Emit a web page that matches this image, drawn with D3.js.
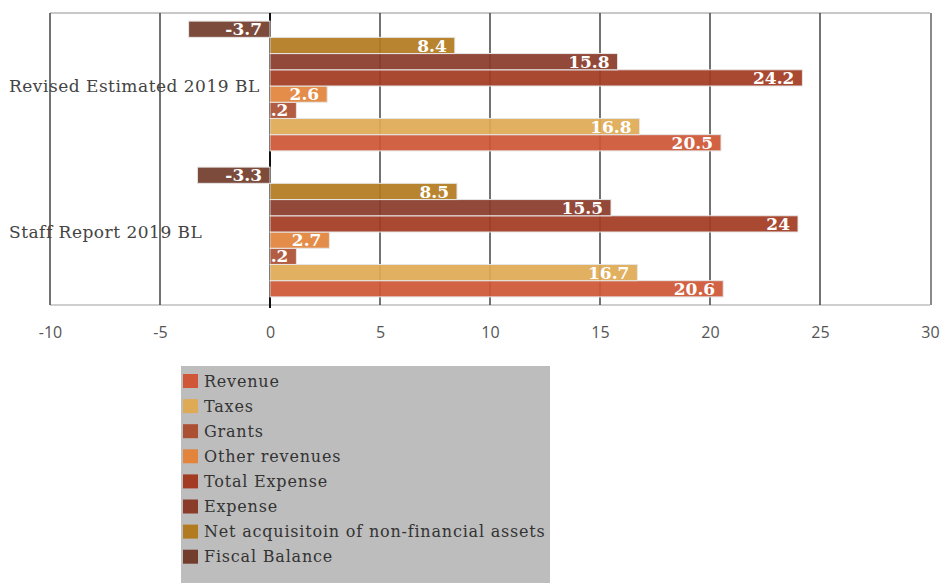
<!DOCTYPE html>
<html>
<head>
<meta charset="utf-8">
<script src="https://cdn.jsdelivr.net/npm/d3@7"></script>
<style>
  html, body { margin: 0; padding: 0; background: #fff; }
  svg { display: block; }
</style>
</head>
<body>
<svg id="chart" width="944" height="583"></svg>
<script>
// Budget law comparison, % of GDP
const categories = ["Revised Estimated 2019 BL", "Staff Report 2019 BL"];
const seriesNames = ["Revenue", "Taxes", "Grants", "Other revenues", "Total Expense",
                     "Expense", "Net acquisitoin of non-financial assets", "Fiscal Balance"];
const revenue       = [20.5, 20.6];
const taxes         = [16.8, 16.7];
const grants        = [1.2, 1.2];
const otherRevenues = [2.6, 2.7];
const totalExpense  = [24.2, 24];
const expense       = [15.8, 15.5];
const netAcquisition = [8.4, 8.5];
const fiscalBalance = [-3.7, -3.3];
const xTicks = [-10, -5, 0, 5, 10, 15, 20, 25, 30];

const seriesValues = [revenue, taxes, grants, otherRevenues, totalExpense,
                      expense, netAcquisition, fiscalBalance];
const colors = ["#cf5636", "#dfaa55", "#ac5034", "#e2843c", "#a33b22",
                "#8a3b2a", "#b37b20", "#723d2c"];

const series = seriesNames.map((name, i) => ({ name, values: seriesValues[i], color: colors[i] }));

const svg = d3.select("#chart");
const plotLeft = 50, plotRight = 930, plotTop = 13, plotBottom = 305;

const x = d3.scaleLinear().domain([-10, 30]).range([plotLeft, plotRight]);
const y0 = d3.scaleBand().domain(categories).range([plotTop, plotBottom]).padding(0);
// Bars stack from the top with Fiscal Balance first and Revenue last
const y1 = d3.scaleBand().domain(seriesNames.slice().reverse())
  .range([0, y0.bandwidth()]).paddingInner(0).paddingOuter(0.5);

const serif = "'DejaVu Serif', serif";

// Category labels sit underneath the grid lines
svg.append("g").selectAll("text").data(categories).join("text")
  .attr("x", 9).attr("y", d => y0(d) + y0.bandwidth() / 2)
  .attr("dy", "0.35em")
  .attr("font-family", serif).attr("font-size", 17).attr("letter-spacing", 0.5)
  .attr("fill", "#444")
  .text(d => d);

// Plot frame
svg.append("line").attr("x1", plotLeft).attr("x2", plotRight).attr("y1", plotTop).attr("y2", plotTop)
  .attr("stroke", "#c8c8c8").attr("stroke-width", 2);
svg.append("line").attr("x1", plotRight + 1).attr("x2", plotRight + 1).attr("y1", plotTop).attr("y2", plotBottom)
  .attr("stroke", "#8a8a8a").attr("stroke-width", 2);
svg.append("line").attr("x1", plotLeft).attr("x2", plotRight).attr("y1", plotBottom).attr("y2", plotBottom)
  .attr("stroke", "#cfcfcf").attr("stroke-width", 2);

// Vertical grid
svg.append("g").selectAll("line").data(xTicks.filter(t => t !== 30)).join("line")
  .attr("x1", d => x(d)).attr("x2", d => x(d))
  .attr("y1", plotTop)
  .attr("y2", d => d === 0 ? plotBottom + 3 : plotBottom)
  .attr("stroke", d => d === 0 ? "#111" : "#444")
  .attr("stroke-width", d => d === 0 ? 2 : 1.5);

// Tick labels (plain hyphen for negatives)
const xAxis = d3.axisBottom(x).tickValues(xTicks).tickFormat(d => String(d)).tickSize(0).tickPadding(0);
const axisG = svg.append("g").attr("transform", `translate(0,${plotBottom})`).call(xAxis);
axisG.select(".domain").remove();
axisG.selectAll("text")
  .attr("y", 27).attr("dy", "0.35em")
  .attr("font-family", "'Open Sans', sans-serif").attr("font-size", 16).attr("fill", "#555");

// Bars
const groups = svg.append("g").selectAll("g").data(categories).join("g")
  .attr("transform", d => `translate(0,${y0(d)})`);

groups.each(function (cat, ci) {
  const g = d3.select(this);
  const rows = series.map(s => ({ name: s.name, color: s.color, v: s.values[ci] }));
  g.selectAll("rect").data(rows).join("rect")
    .attr("x", d => x(Math.min(0, d.v)))
    .attr("width", d => Math.abs(x(d.v) - x(0)))
    .attr("y", d => y1(d.name))
    .attr("height", y1.bandwidth())
    .attr("fill", d => d.color)
    .attr("fill-opacity", 0.93)
    .attr("stroke", "#e6e6e6").attr("stroke-width", 1);
  g.selectAll("text.val").data(rows).join("text").attr("class", "val")
    .attr("x", d => x(Math.max(0, d.v)) - 8)
    .attr("y", d => y1(d.name) + y1.bandwidth() / 2)
    .attr("dy", "0.36em")
    .attr("text-anchor", "end")
    .attr("font-family", serif).attr("font-weight", "bold").attr("font-size", 17)
    .attr("fill", "#fff")
    .text(d => d.v);
});

// Legend
const legend = svg.append("g").attr("transform", "translate(181,366)");
legend.append("rect").attr("width", 369).attr("height", 230).attr("fill", "#bdbdbd");
const items = legend.selectAll("g").data(series).join("g")
  .attr("transform", (d, i) => `translate(0,${15 + i * 25.1})`);
items.append("rect").attr("x", 2).attr("y", -7).attr("width", 15).attr("height", 14)
  .attr("fill", d => d.color);
items.append("text").attr("x", 23).attr("dy", "0.35em")
  .attr("font-family", serif).attr("font-size", 16).attr("letter-spacing", 0.8)
  .attr("fill", "#333")
  .text(d => d.name);
</script>
</body>
</html>
